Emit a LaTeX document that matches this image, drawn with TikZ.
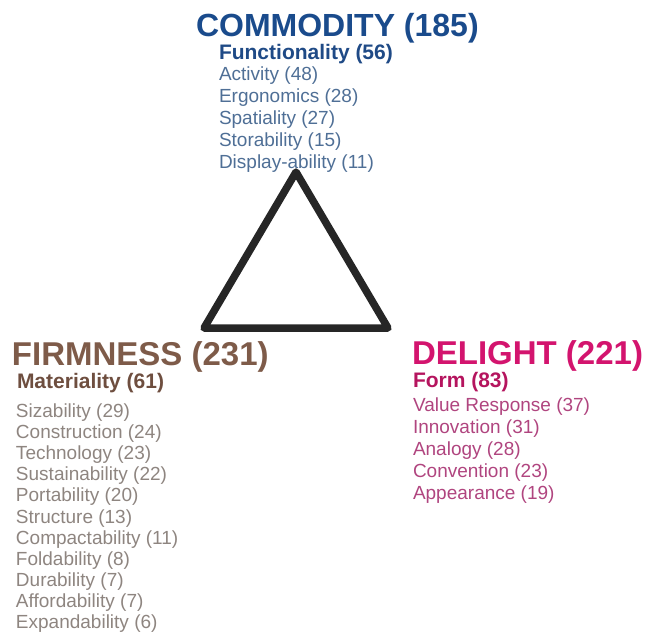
\documentclass[tikz,border=0pt]{standalone}
\usepackage{fontspec}
\setmainfont{Liberation Sans}
\definecolor{comT}{HTML}{1A4B8C}
\definecolor{comS}{HTML}{1F4A86}
\definecolor{comI}{HTML}{4F6F96}
\definecolor{firT}{HTML}{7E5B49}
\definecolor{firS}{HTML}{6E4E3F}
\definecolor{firI}{HTML}{8E8580}
\definecolor{delT}{HTML}{D3146E}
\definecolor{delS}{HTML}{B5145E}
\definecolor{delI}{HTML}{B0457F}
\begin{document}
\begin{tikzpicture}[x=1pt,y=-1pt,
  every node/.style={inner sep=0pt,outer sep=0pt,anchor=base west},
  bigtitle/.style={font=\fontsize{32}{32}\selectfont\bfseries},
  subtitle/.style={font=\fontsize{21}{21}\selectfont\bfseries},
  item/.style={font=\fontsize{19}{19}\selectfont}]
\useasboundingbox (0,0) rectangle (648,635);
% triangle
\coordinate (ta) at (296,172);
\coordinate (tb) at (204,328);
\coordinate (tc) at (388,328);
\draw[line width=7.5pt,line join=round,color=black!85] (ta) -- (tb) -- (tc) -- cycle;
% COMMODITY
\node[bigtitle,text=comT] (com) at (196,36) {COMMODITY (185)};
\node[subtitle,text=comS] (comsub) at (219,59.5) {Functionality (56)};
\foreach \t [count=\i from 0] in {Activity (48),Ergonomics (28),Spatiality (27),Storability (15),Display-ability (11)}
  \node[item,text=comI] (com\i) at (219,80+22*\i) {\t};
% FIRMNESS
\node[bigtitle,text=firT,font=\fontsize{33}{33}\selectfont\bfseries] (fir) at (12,365.5) {FIRMNESS (231)};
\node[subtitle,text=firS] (firsub) at (17,388.5) {Materiality (61)};
\foreach \t [count=\i from 0] in {Sizability (29),Construction (24),Technology (23),Sustainability (22),Portability (20),Structure (13),Compactability (11),Foldability (8),Durability (7),Affordability (7),Expandability (6)}
  \node[item,text=firI] (fir\i) at (16,417.5+21.1*\i) {\t};
% DELIGHT
\node[bigtitle,text=delT,font=\fontsize{33}{33}\selectfont\bfseries] (del) at (412,364) {DELIGHT (221)};
\node[subtitle,text=delS] (delsub) at (413,387) {Form (83)};
\foreach \t [count=\i from 0] in {Value Response (37),Innovation (31),Analogy (28),Convention (23),Appearance (19)}
  \node[item,text=delI] (del\i) at (413,411+22*\i) {\t};
\end{tikzpicture}
\end{document}
